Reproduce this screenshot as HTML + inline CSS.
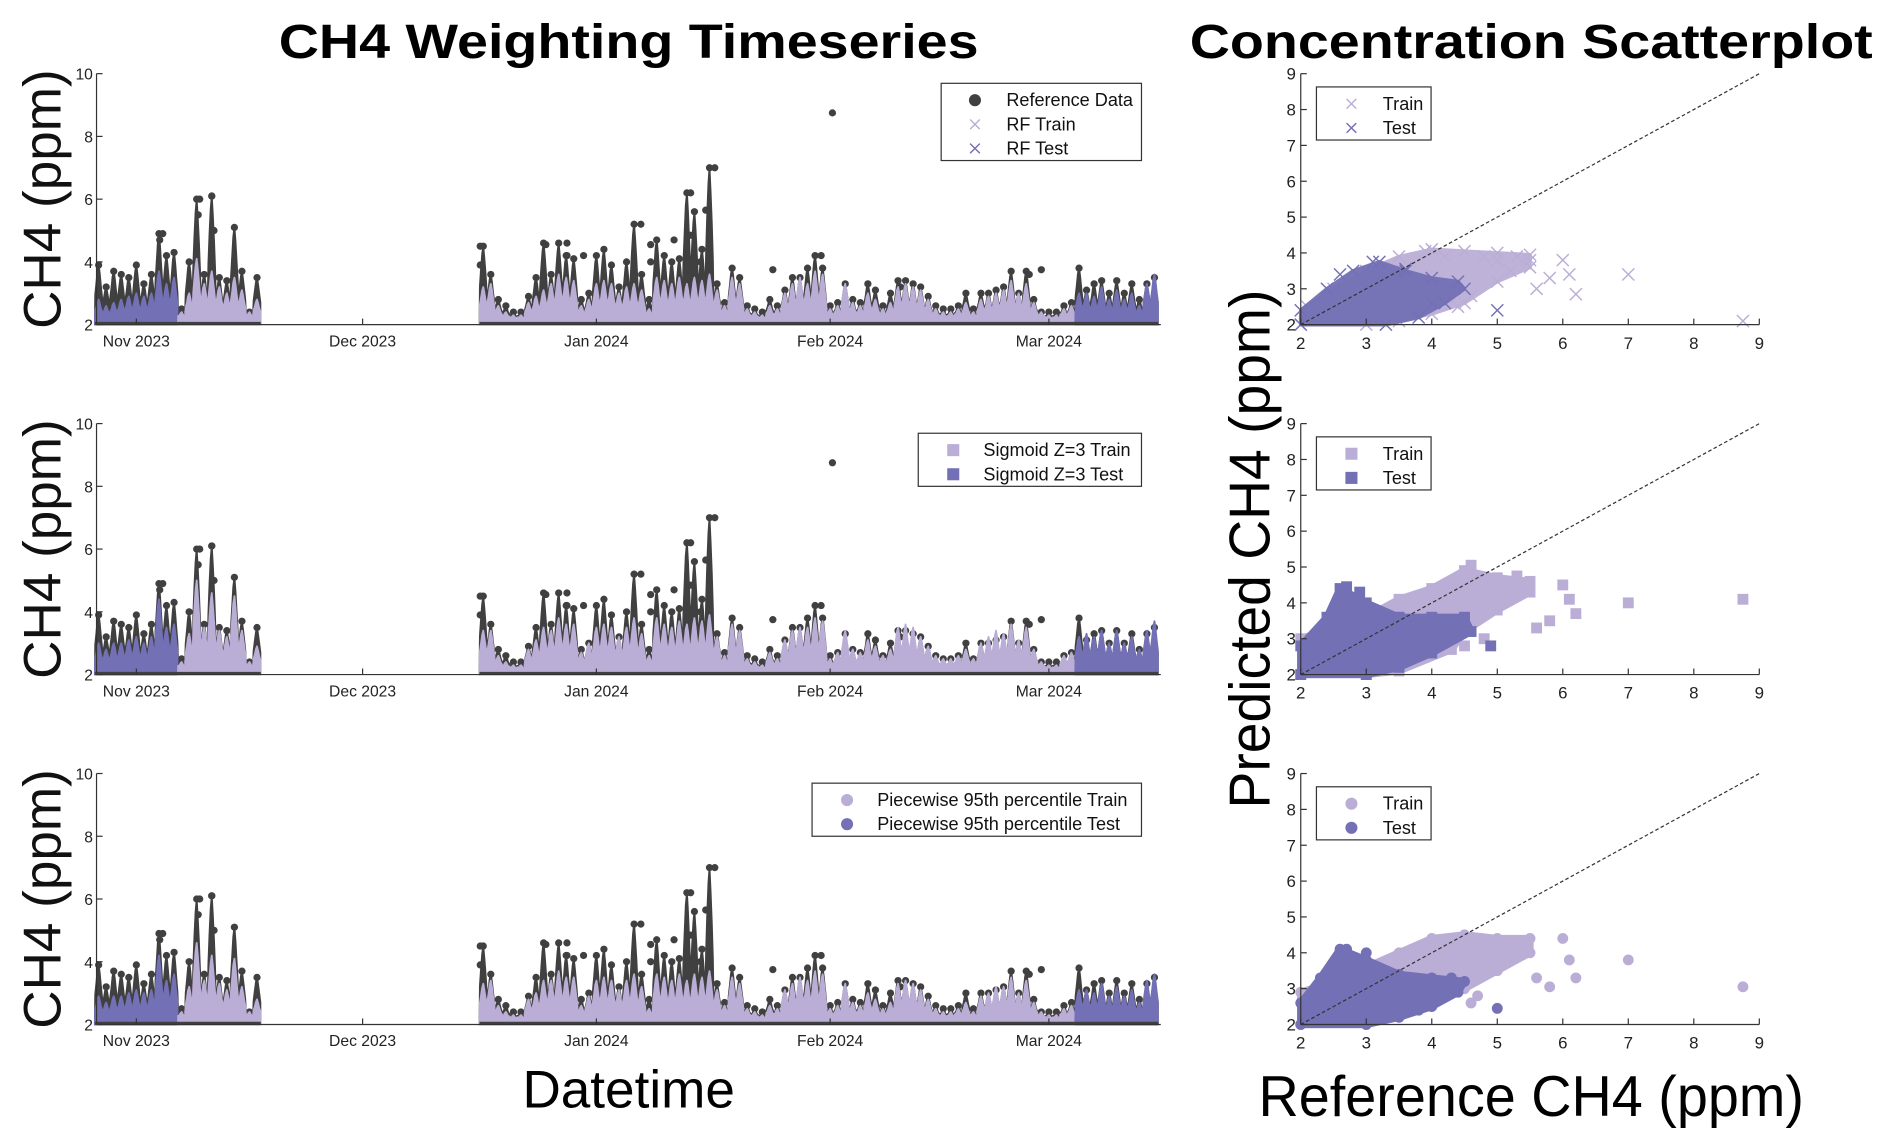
<!DOCTYPE html>
<html><head><meta charset="utf-8"><style>
html,body{margin:0;padding:0;background:#fff;}
svg{display:block;font-family:"Liberation Sans",Arial,sans-serif;}
</style></head><body>
<svg id="fig" width="1892" height="1144" viewBox="0 0 1568 948" xmlns="http://www.w3.org/2000/svg">
<text x="521" y="48" text-anchor="middle" font-size="40" font-weight="bold" textLength="580" lengthAdjust="spacingAndGlyphs">CH4 Weighting Timeseries</text>
<text x="1269" y="48" text-anchor="middle" font-size="40" font-weight="bold" textLength="566" lengthAdjust="spacingAndGlyphs">Concentration Scatterplot</text>
<text x="521" y="918" text-anchor="middle" font-size="44">Datetime</text>
<text x="1269" y="925" text-anchor="middle" font-size="48" textLength="452" lengthAdjust="spacingAndGlyphs">Reference CH4 (ppm)</text>
<text transform="translate(1052,455) rotate(-90)" text-anchor="middle" font-size="48" textLength="430" lengthAdjust="spacingAndGlyphs">Predicted CH4 (ppm)</text>
<g id="plots"></g>
</svg>
<script>
// ---------- Timeseries data (day index from 2023-11-01) ----------
const segADays = [-5,-4,-3,-2,-1,0,1,2,3,4,5,6,7,8,9,10,11,12,13,14,15,16];
const segARef  = [3.9,3.2,3.7,3.6,3.5,3.9,3.3,3.6,4.9,4.2,4.3,2.5,4.0,6.0,3.6,6.1,3.5,3.4,5.1,3.7,2.4,3.5];
const segARF   = [2.8,2.6,2.7,2.8,2.9,3.0,2.9,3.0,3.7,3.3,3.5,2.4,3.0,4.1,3.3,3.7,3.2,3.0,3.5,3.1,2.4,2.8];
const segASig  = [3.0,2.8,3.0,3.0,3.1,3.2,3.0,3.2,4.4,3.5,3.6,2.4,3.3,5.0,3.5,4.6,3.4,3.2,4.5,3.4,2.4,2.9];
const segAPw   = [2.9,2.7,2.9,2.9,3.0,3.1,3.0,3.1,4.2,3.4,3.6,2.4,3.2,4.6,3.4,4.2,3.3,3.1,4.1,3.2,2.4,2.8];
const segBStart = 46;
const segBRef = [4.5,3.6,2.8,2.6,2.4,2.4,2.9,3.5,4.6,3.6, 4.6,4.2,4.1,2.8,3.0,4.2,4.4,3.9,3.2,4.0, 5.2,3.6,2.8,4.7,4.2,4.0,4.1,6.2,5.6,4.4,
 7.0,3.3,2.7,3.8,3.5,2.6,2.5,2.4,2.8,2.6, 3.1,3.5,3.5,3.8,4.2,3.8,2.6,2.7,3.3,2.8, 2.7,3.3,3.1,2.6,3.0,3.4,3.4,3.3,3.2,2.9,
 2.6,2.5,2.5,2.6,3.0,2.5,3.0,3.0,3.1,3.2, 3.7,3.0,3.7,2.8,2.4,2.4,2.4,2.6,2.7,3.8, 3.1,3.3,3.4,3.0,3.4,3.0,3.3,2.8,3.3,3.5];
const segBRF = [3.2,3.3,2.6,2.4,2.3,2.3,2.7,2.9,3.1,3.3, 3.6,3.5,3.4,2.6,2.8,3.3,3.4,3.3,3.0,3.2, 3.3,3.1,2.5,3.5,3.4,3.3,3.5,3.3,3.5,3.4,
 3.6,3.1,2.6,3.5,3.3,2.5,2.4,2.3,2.6,2.5, 3.0,3.3,3.5,3.3,3.7,3.6,2.5,2.6,3.3,2.7, 2.6,3.0,2.8,2.5,2.7,3.2,3.3,3.2,3.1,2.8,
 2.5,2.4,2.4,2.5,2.7,2.4,2.8,2.9,3.0,3.1, 3.4,3.0,3.3,2.7,2.4,2.3,2.3,2.5,2.6,3.0, 3.0,2.9,3.2,2.8,3.1,2.8,3.0,2.6,3.3,3.6];
const segBSig = [3.4,3.4,2.6,2.4,2.3,2.3,2.8,3.1,3.5,3.4, 3.8,3.6,3.6,2.7,3.0,3.5,3.6,3.5,3.2,3.5, 3.8,3.3,2.6,3.8,3.6,3.5,3.7,3.6,3.8,3.7,
 3.9,3.2,2.6,3.6,3.4,2.5,2.4,2.3,2.7,2.5, 3.1,3.4,3.5,3.5,3.8,3.7,2.5,2.7,3.4,2.8, 2.7,3.1,2.9,2.6,2.8,3.5,3.6,3.5,3.2,2.9,
 2.6,2.5,2.5,2.6,2.8,2.5,3.0,3.2,3.4,3.3, 3.6,3.1,3.5,2.8,2.4,2.3,2.3,2.6,2.7,3.2, 3.3,3.2,3.4,3.0,3.4,3.0,3.2,2.8,3.4,3.7];
const segBPw = [3.3,3.4,2.6,2.4,2.3,2.3,2.8,3.0,3.4,3.4, 3.7,3.5,3.5,2.6,2.9,3.4,3.5,3.4,3.1,3.4, 3.6,3.2,2.5,3.6,3.5,3.4,3.6,3.4,3.6,3.5,
 3.7,3.1,2.6,3.5,3.3,2.5,2.4,2.3,2.6,2.5, 3.1,3.3,3.5,3.4,3.7,3.6,2.5,2.6,3.3,2.7, 2.6,3.0,2.8,2.5,2.7,3.3,3.4,3.3,3.1,2.8,
 2.5,2.4,2.4,2.5,2.7,2.4,2.9,3.0,3.2,3.2, 3.5,3.0,3.4,2.7,2.4,2.3,2.3,2.5,2.6,3.1, 3.1,3.0,3.3,2.9,3.2,2.9,3.1,2.7,3.4,3.6];
const testEndA = 5.9;     // test period end (first segment)
const testStartB = 124.3; // test period start (last segment)
const refOutDays = [8.2,8.4,10.0,10.3,3.1,3.5,45.6,45.6,54.3,57.1,57.1,59.3,66.9,68.2,68.2,71.3,74.8,73.5,73.5,75.5,76.7,92.3,90.8,84.4,101.3,118.4,120.0];
const refOutVals = [5.5,6.0,6.1,5.0,4.7,4.9,4.5,3.9,4.55,4.6,4.2,4.2,5.2,4.55,4.0,4.7,4.0,4.85,6.2,5.65,7.0,8.75,4.2,3.75,3.2,3.6,3.75];
const xTickDays = [0,30,61,92,121];
const xTickLabels = ["Nov 2023","Dec 2023","Jan 2024","Feb 2024","Mar 2024"];
const yTicksTS = [2,4,6,8,10];

// ---------- Scatter data (reference, predicted) ----------
const rfTrainHullX = [2,2.1,2.5,3.0,3.5,4.0,4.5,5.0,5.5,5.5,5.0,4.5,4.0,3.5,3.0];
const rfTrainHullY = [2,2.5,3.0,3.5,3.9,4.1,4.05,4.0,3.95,3.6,3.2,2.6,2.3,2.1,2.0];
const rfTestHullX = [2,2.0,2.4,2.8,3.2,3.6,4.0,4.4,4.5,4.2,3.8,3.3];
const rfTestHullY = [2,2.4,3.0,3.5,3.75,3.5,3.3,3.2,3.0,2.6,2.2,2.0];
const rfTrainOutX = [4.8,5.0,5.3,5.5,6.0,6.1,6.2,5.6,5.8,7.0,8.75,4.4,4.6,4.2,3.9,5.2];
const rfTrainOutY = [3.9,3.8,3.9,3.8,3.8,3.4,2.85,3.0,3.3,3.4,2.1,2.5,2.8,3.9,4.05,3.5];
const rfTestOutX = [5.0,4.0,3.1,2.6,3.6];
const rfTestOutY = [2.4,2.6,3.75,3.4,3.55];
const sgTrainHullX = [2,2,2.5,3.0,3.5,4.0,4.5,5.0,5.5,5.5,5.0,4.5,4.3,3.5,3];
const sgTrainHullY = [2,3.0,3.3,3.6,4.1,4.4,4.9,4.7,4.6,4.3,3.8,3.2,2.7,2.1,2];
const sgTestHullX = [2,2.0,2.4,2.6,3.0,3.5,4.0,4.5,4.6,4.0,3.5,3.0];
const sgTestHullY = [2,2.8,3.6,4.4,4.0,3.6,3.6,3.6,3.2,2.6,2.2,2.0];
const sgTrainOutX = [6.0,6.1,6.2,7.0,8.75,5.6,5.8,4.8,4.5,4.6,5.3];
const sgTrainOutY = [4.5,4.1,3.7,4.0,4.1,3.3,3.5,3.0,2.8,5.05,4.75];
const sgTestOutX = [4.9,4.2,2.7,2.9];
const sgTestOutY = [2.8,3.3,4.45,4.3];
const pwTrainHullX = [2,2,2.5,3.0,3.5,4.0,4.5,5.0,5.5,5.5,5.0,4.5,4.0,3.5,3];
const pwTrainHullY = [2,2.9,3.2,3.6,4.0,4.4,4.5,4.4,4.4,4.0,3.5,3.0,2.6,2.2,2];
const pwTestHullX = [2,2.0,2.3,2.6,3.0,3.5,4.0,4.5,4.4,4.0,3.5,3.0];
const pwTestHullY = [2,2.6,3.3,4.1,3.8,3.4,3.3,3.2,2.9,2.5,2.2,2.0];
const pwTrainOutX = [6.0,6.1,6.2,7.0,8.75,5.6,5.8,4.6,4.7,5.4];
const pwTrainOutY = [4.4,3.8,3.3,3.8,3.05,3.3,3.05,2.6,2.8,4.3];
const pwTestOutX = [5.0,4.3,3.8,2.7,3.0];
const pwTestOutY = [2.45,3.3,2.4,4.1,4.0];

const NS = "http://www.w3.org/2000/svg";
const LIGHT = "#bbaed6", DARK = "#7370b5", REF = "#404040";
const root = document.getElementById("plots");
function el(tag, attrs, parent) {
  const e = document.createElementNS(NS, tag);
  for (const k in attrs) e.setAttribute(k, attrs[k]);
  (parent || root).appendChild(e);
  return e;
}
function txt(s, attrs, parent) { const t = el("text", attrs, parent); t.textContent = s; return t; }

const tops = [61, 351, 641];
const tsX = d => 113 + 6.25 * d;
function tsY(i) { return v => tops[i] + 208 - (v - 2) * 26; }

function spikePoly(days, vals, y, fill, g, name, lo, hi) {
  let pts = [];
  let started = false;
  for (let k = 0; k < days.length; k++) {
    const d = days[k];
    if (d < lo || d > hi) continue;
    const v = vals[k];
    if (!started) { pts.push([tsX(d - 0.5), y(2.0)]); started = true; }
    pts.push([tsX(d - 0.45), y(2.1 + (v - 2) * 0.45)]);
    pts.push([tsX(d - 0.3), y(2 + (v - 2) * 0.7)]);
    pts.push([tsX(d - 0.15), y(2 + (v - 2) * 0.9)]);
    pts.push([tsX(d), y(v)]);
    pts.push([tsX(d + 0.15), y(2 + (v - 2) * 0.85)]);
    pts.push([tsX(d + 0.3), y(2 + (v - 2) * 0.65)]);
    pts.push([tsX(d + 0.45), y(2.1 + (v - 2) * 0.4)]);
  }
  if (!pts.length) return;
  pts.push([pts[pts.length - 1][0], y(2.0)]);
  const p = el("polygon", {points: pts.map(q => q[0].toFixed(1) + "," + q[1].toFixed(1)).join(" "), fill: fill, stroke: fill, "stroke-width": 1.5, "stroke-linejoin": "round"}, g);
  
  
}

const tsPred = [[segARF, segBRF], [segASig, segBSig], [segAPw, segBPw]];
const segBDays = segBRef.map((_, k) => segBStart + k);
const legendSpecs = [
  {x: 780, y: 69, w: 166, items: [["circle", REF, "Reference Data"], ["x", LIGHT, "RF Train"], ["x", DARK, "RF Test"]], mx: 808, tx: 834},
  {x: 761, y: 359, w: 185, items: [["square", LIGHT, "Sigmoid Z=3 Train"], ["square", DARK, "Sigmoid Z=3 Test"]], mx: 790, tx: 815},
  {x: 673, y: 649, w: 273, items: [["circle", LIGHT, "Piecewise 95th percentile Train"], ["circle", DARK, "Piecewise 95th percentile Test"]], mx: 702, tx: 727}
];
function marker(type, cx, cy, color, g, size) {
  const s = size || 4;
  let m;
  if (type === "circle") m = el("circle", {cx: cx, cy: cy, r: s, fill: color}, g);
  else if (type === "square") m = el("rect", {x: cx - s, y: cy - s, width: 2 * s, height: 2 * s, fill: color}, g);
  else m = el("path", {d: `M${cx - s},${cy - s}L${cx + s},${cy + s}M${cx - s},${cy + s}L${cx + s},${cy - s}`, stroke: color, "stroke-width": 1.2, fill: "none"}, g);
  return m;
}
function legend(spec, g, name) {
  const lg = el("g", {}, g);
  
  
  const h = spec.items.length * 20 + 4;
  el("rect", {x: spec.x, y: spec.y, width: spec.w, height: h, fill: "#fff", stroke: "#333", "stroke-width": 1}, lg);
  spec.items.forEach((it, k) => {
    const cy = spec.y + 14 + 20 * k;
    const m = marker(it[0], spec.mx, cy, it[1], lg, it[0] === "x" ? 4 : 5);
    
    
    const t = txt(it[2], {x: spec.tx, y: cy + 5, "font-size": 15, fill: "#111"}, lg);
    
    
  });
}

for (let i = 0; i < 3; i++) {
  const g = el("g", {});
  
  
  const y = tsY(i);
  spikePoly(segADays, segARef, y, REF, g, 'reference-series-a', -99, 999);
  spikePoly(segBDays, segBRef, y, REF, g, 'reference-series-b', -99, 999);
  segADays.forEach((d, k) => { const c = el("circle", {cx: tsX(d), cy: y(segARef[k]), r: 3, fill: REF}, g);   });
  segBDays.forEach((d, k) => { const c = el("circle", {cx: tsX(d), cy: y(segBRef[k]), r: 3, fill: REF}, g);   });
  refOutDays.forEach((d, k) => { const c = el("circle", {cx: tsX(d), cy: y(refOutVals[k]), r: 3, fill: REF}, g);   });
  const pa = tsPred[i][0], pb = tsPred[i][1];
  spikePoly(segADays, pa, y, DARK, g, 'test-series-a', -99, testEndA);
  spikePoly(segADays, pa, y, LIGHT, g, 'train-series-a', testEndA, 999);
  spikePoly(segBDays, pb, y, LIGHT, g, 'train-series-b', -99, testStartB);
  spikePoly(segBDays, pb, y, DARK, g, 'test-series-b', testStartB, 999);
  [[segADays[0] - 0.5, segADays[segADays.length - 1] + 0.5], [segBDays[0] - 0.5, segBDays[segBDays.length - 1] + 0.5]].forEach(r => {
    el("line", {x1: tsX(r[0]), x2: tsX(r[1]), y1: y(2) - 1, y2: y(2) - 1, stroke: REF, "stroke-width": 2.5}, g);
  });
  const ax = el("g", {}, g);
  
  
  el("line", {x1: 80, x2: 962, y1: y(2), y2: y(2), stroke: "#333", "stroke-width": 1}, ax);
  el("line", {x1: 80, x2: 80, y1: y(2), y2: y(10), stroke: "#333", "stroke-width": 1}, ax);
  yTicksTS.forEach(v => {
    el("line", {x1: 80, x2: 85, y1: y(v), y2: y(v), stroke: "#333"}, ax);
    const t = txt(String(v), {x: 77, y: y(v) + 5, "text-anchor": "end", "font-size": 13, fill: "#222"}, ax);
    
    
  });
  xTickDays.forEach((d, k) => {
    el("line", {x1: tsX(d), x2: tsX(d), y1: y(2), y2: y(2) - 5, stroke: "#333"}, ax);
    const t = txt(xTickLabels[k], {x: tsX(d), y: y(2) + 18, "text-anchor": "middle", "font-size": 13, fill: "#222"}, ax);
    
    
  });
  const yl = txt("CH4 (ppm)", {transform: `translate(50,${tops[i] + 104}) rotate(-90)`, "text-anchor": "middle", "font-size": 44, fill: "#111"}, g);
  
  
  legend(legendSpecs[i], g, 'timeseries-legend-' + (i + 1));
}

// ---------- Scatter panels ----------
const sx = v => 1078 + (v - 2) * 54.29;
function syF(i) { return v => tops[i] + 208 - (v - 2) * 29.71; }
const sc = [
  {type: "x", tHX: rfTrainHullX, tHY: rfTrainHullY, eHX: rfTestHullX, eHY: rfTestHullY, tOX: rfTrainOutX, tOY: rfTrainOutY, eOX: rfTestOutX, eOY: rfTestOutY},
  {type: "square", tHX: sgTrainHullX, tHY: sgTrainHullY, eHX: sgTestHullX, eHY: sgTestHullY, tOX: sgTrainOutX, tOY: sgTrainOutY, eOX: sgTestOutX, eOY: sgTestOutY},
  {type: "circle", tHX: pwTrainHullX, tHY: pwTrainHullY, eHX: pwTestHullX, eHY: pwTestHullY, tOX: pwTrainOutX, tOY: pwTrainOutY, eOX: pwTestOutX, eOY: pwTestOutY}
];
const sTicks = [2,3,4,5,6,7,8,9];
for (let i = 0; i < 3; i++) {
  const s = sc[i], y = syF(i);
  const g = el("g", {});
  
  
  const ms = s.type === "x" ? 5 : 4.5;
  [[s.tHX, s.tHY, s.tOX, s.tOY, LIGHT, 'train'], [s.eHX, s.eHY, s.eOX, s.eOY, DARK, 'test']].forEach(set => {
    const p = el("polygon", {points: set[0].map((v, k) => sx(v).toFixed(1) + "," + y(set[1][k]).toFixed(1)).join(" "), fill: set[4], stroke: set[4], "stroke-width": s.type === "x" ? 3 : 6, "stroke-linejoin": "round", opacity: s.type === "x" ? 0.95 : 1}, g);
    
    
    set[0].forEach((v, k) => { const m = marker(s.type, sx(v), y(set[1][k]), set[4], g, ms);   });
    set[2].forEach((v, k) => { const m = marker(s.type, sx(v), y(set[3][k]), set[4], g, ms);   });
  });
  const ln = el("line", {x1: sx(2), y1: y(2), x2: sx(9), y2: y(9), stroke: "#333", "stroke-width": 1, "stroke-dasharray": "3,2"}, g);
  
  
  const ax = el("g", {}, g);
  
  
  el("line", {x1: sx(2), x2: sx(9), y1: y(2), y2: y(2), stroke: "#333"}, ax);
  el("line", {x1: sx(2), x2: sx(2), y1: y(2), y2: y(9), stroke: "#333"}, ax);
  sTicks.forEach(v => {
    el("line", {x1: sx(2), x2: sx(2) + 5, y1: y(v), y2: y(v), stroke: "#333"}, ax);
    el("line", {x1: sx(v), x2: sx(v), y1: y(2), y2: y(2) - 5, stroke: "#333"}, ax);
    const t1 = txt(String(v), {x: sx(2) - 4, y: y(v) + 5, "text-anchor": "end", "font-size": 14, fill: "#222"}, ax);
    
    
    const t2 = txt(String(v), {x: sx(v), y: y(2) + 20, "text-anchor": "middle", "font-size": 14, fill: "#222"}, ax);
    
    
  });
  legend({x: 1091, y: tops[i] + 11, w: 95, items: [[s.type, LIGHT, "Train"], [s.type, DARK, "Test"]], mx: 1120, tx: 1146}, g, 'scatter-legend-' + (i + 1));
}
</script>
</body></html>
